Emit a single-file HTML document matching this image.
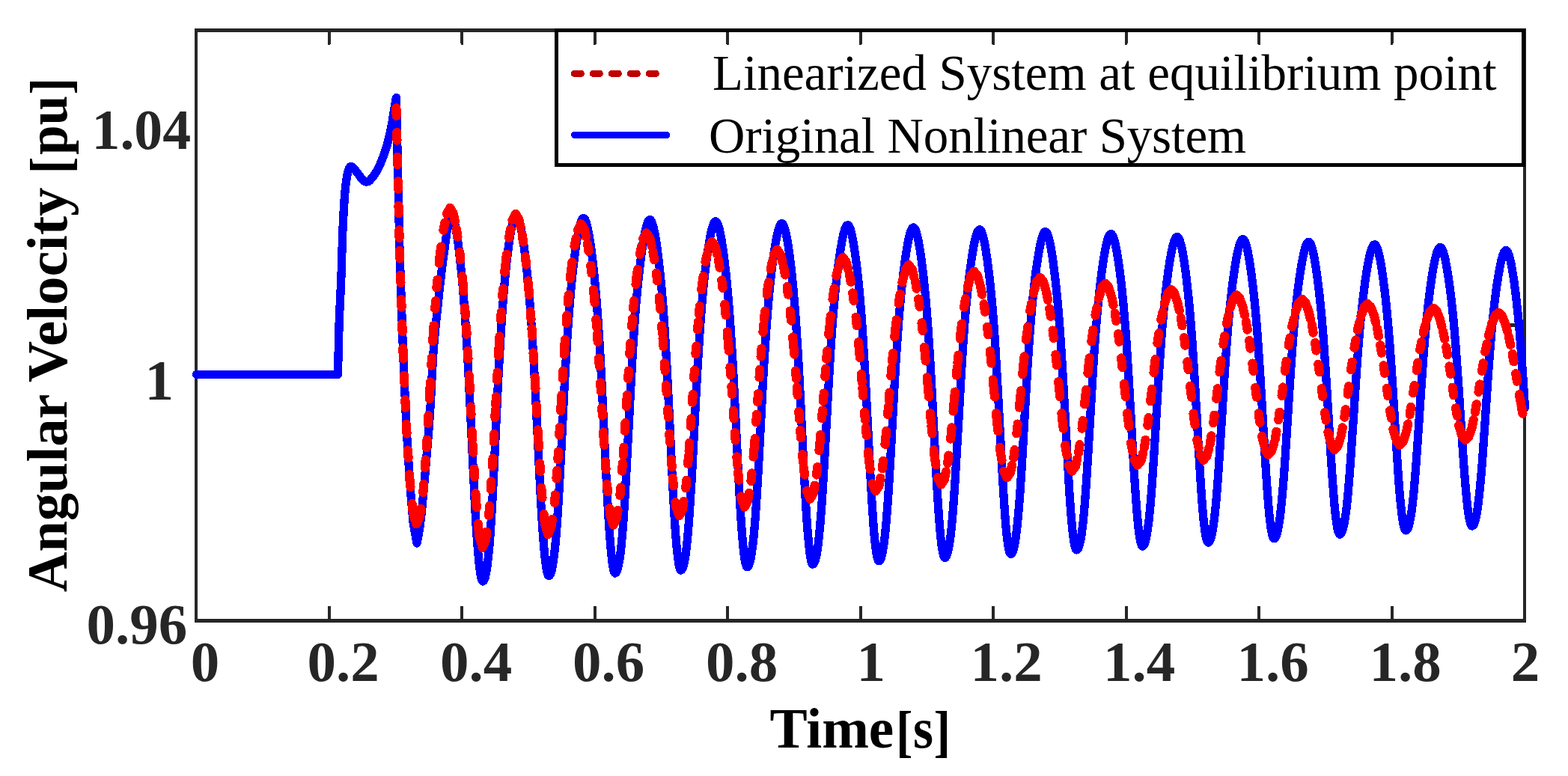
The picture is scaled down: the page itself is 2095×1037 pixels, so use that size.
<!DOCTYPE html>
<html lang="en"><head><meta charset="utf-8"><title>Angular Velocity vs Time</title>
<style>
html,body{margin:0;padding:0;background:#fff;}
body{width:2095px;height:1037px;overflow:hidden;}
svg{display:block;}
</style></head><body>
<svg width="2095" height="1037" viewBox="0 0 2095 1037" shape-rendering="crispEdges">
<rect x="0" y="0" width="2095" height="1037" fill="#fff"/>
<g stroke="#262626" fill="none">
<line x1="260" y1="40.5" x2="2039" y2="40.5" stroke-width="5"/>
<line x1="260" y1="829.5" x2="2039" y2="829.5" stroke-width="5"/>
<line x1="262" y1="38" x2="262" y2="832" stroke-width="4"/>
<line x1="2037" y1="38" x2="2037" y2="832" stroke-width="4"/>
<line x1="439.95" y1="43" x2="439.95" y2="58" stroke-width="4" stroke-linecap="round"/>
<line x1="439.95" y1="827" x2="439.95" y2="810" stroke-width="4"/>
<line x1="617.40" y1="43" x2="617.40" y2="58" stroke-width="4" stroke-linecap="round"/>
<line x1="617.40" y1="827" x2="617.40" y2="810" stroke-width="4"/>
<line x1="794.85" y1="43" x2="794.85" y2="58" stroke-width="4" stroke-linecap="round"/>
<line x1="794.85" y1="827" x2="794.85" y2="810" stroke-width="4"/>
<line x1="972.30" y1="43" x2="972.30" y2="58" stroke-width="4" stroke-linecap="round"/>
<line x1="972.30" y1="827" x2="972.30" y2="810" stroke-width="4"/>
<line x1="1149.75" y1="43" x2="1149.75" y2="58" stroke-width="4" stroke-linecap="round"/>
<line x1="1149.75" y1="827" x2="1149.75" y2="810" stroke-width="4"/>
<line x1="1327.20" y1="43" x2="1327.20" y2="58" stroke-width="4" stroke-linecap="round"/>
<line x1="1327.20" y1="827" x2="1327.20" y2="810" stroke-width="4"/>
<line x1="1504.65" y1="43" x2="1504.65" y2="58" stroke-width="4" stroke-linecap="round"/>
<line x1="1504.65" y1="827" x2="1504.65" y2="810" stroke-width="4"/>
<line x1="1682.10" y1="43" x2="1682.10" y2="58" stroke-width="4" stroke-linecap="round"/>
<line x1="1682.10" y1="827" x2="1682.10" y2="810" stroke-width="4"/>
<line x1="1859.55" y1="43" x2="1859.55" y2="58" stroke-width="4" stroke-linecap="round"/>
<line x1="1859.55" y1="827" x2="1859.55" y2="810" stroke-width="4"/>
<line x1="2035" y1="434.5" x2="2018" y2="434.5" stroke-width="5"/>
</g>
<rect x="743.5" y="40.5" width="1291.5" height="180" fill="none" stroke="#000" stroke-width="5"/>
<path d="M262.5,500.4 L451.4,500.4 L453.2,430.0 L453.4,425.4 L453.7,419.2 L454.0,411.9 L454.4,403.7 L454.8,395.1 L455.2,386.4 L455.6,377.9 L455.9,370.0 L456.2,362.5 L456.4,354.9 L456.6,347.3 L456.8,339.7 L457.1,332.2 L457.3,324.8 L457.5,317.6 L457.8,310.6 L458.1,303.7 L458.4,296.8 L458.8,290.0 L459.1,283.4 L459.5,277.0 L459.9,271.0 L460.2,265.5 L460.6,260.5 L461.0,256.1 L461.3,252.1 L461.7,248.6 L462.1,245.4 L462.5,242.6 L462.9,240.0 L463.2,237.6 L463.6,235.4 L464.0,233.4 L464.3,231.6 L464.6,230.2 L465.0,229.0 L465.3,227.9 L465.6,227.0 L466.0,226.1 L466.3,225.3 L466.6,224.6 L467.0,224.0 L467.3,223.5 L467.6,223.2 L468.0,222.9 L468.3,222.8 L468.6,222.7 L469.0,222.6 L469.4,222.6 L469.7,222.6 L470.0,222.7 L470.4,222.9 L470.7,223.2 L471.1,223.5 L471.6,224.0 L472.2,224.6 L472.9,225.3 L473.7,226.3 L474.5,227.3 L475.4,228.4 L476.3,229.6 L477.2,230.7 L478.1,231.9 L478.9,232.9 L479.7,233.9 L480.4,234.9 L481.1,235.9 L481.8,236.9 L482.5,237.8 L483.2,238.7 L483.8,239.5 L484.5,240.2 L485.1,240.8 L485.8,241.3 L486.4,241.8 L486.9,242.2 L487.5,242.5 L488.1,242.7 L488.8,242.9 L489.4,242.9 L490.0,242.9 L490.6,242.8 L491.2,242.7 L491.9,242.5 L492.5,242.2 L493.3,241.7 L494.1,241.0 L495.0,240.0 L496.1,238.8 L497.2,237.4 L498.5,235.9 L499.8,234.1 L501.2,232.2 L502.5,230.1 L503.9,227.8 L505.2,225.3 L506.5,222.6 L507.9,219.6 L509.2,216.3 L510.6,212.9 L512.0,209.4 L513.3,205.9 L514.5,202.4 L515.6,199.0 L516.6,195.6 L517.6,192.3 L518.5,188.8 L519.3,185.4 L520.1,182.0 L520.9,178.6 L521.6,175.3 L522.3,172.0 L523.0,168.7 L523.6,165.4 L524.2,162.1 L524.7,158.8 L525.2,155.7 L525.7,152.6 L526.2,149.7 L526.6,147.0 L527.0,144.4 L527.5,141.9 L527.9,139.5 L528.3,137.2 L528.6,135.1 L528.9,133.3 L529.2,131.7 L529.4,130.5 L534.0,335.0 L538.5,469.0 L542.9,569.0 L547.4,642.0 L551.9,697.0 L556.9,726.0 L557.2,724.7 L557.6,722.8 L558.0,720.5 L558.6,717.9 L559.1,715.0 L559.6,712.0 L560.1,709.0 L560.6,706.0 L561.1,702.7 L561.6,699.0 L562.2,694.5 L562.8,689.0 L563.5,682.3 L564.3,674.4 L565.1,665.8 L565.9,656.9 L566.7,647.9 L567.5,639.3 L568.2,631.0 L568.9,622.6 L569.6,614.2 L570.3,605.8 L571.0,597.6 L571.6,589.6 L572.2,582.2 L572.8,575.4 L573.3,568.7 L573.8,561.6 L574.4,553.6 L575.0,544.3 L575.6,533.2 L576.3,520.7 L576.9,507.2 L577.7,493.5 L578.4,480.0 L579.3,467.2 L580.3,454.9 L581.4,442.6 L582.6,430.5 L583.8,418.8 L585.0,407.9 L586.0,398.0 L586.9,389.2 L587.8,381.2 L588.7,374.1 L589.5,367.4 L590.2,361.1 L591.0,355.0 L591.7,349.2 L592.4,343.9 L593.1,338.9 L593.7,334.2 L594.4,329.6 L595.0,325.0 L595.6,320.3 L596.3,315.5 L596.9,310.8 L597.5,306.4 L598.1,302.4 L598.6,299.0 L599.1,296.2 L599.5,293.8 L599.8,291.9 L600.2,290.3 L600.5,288.8 L600.8,287.5 L601.1,286.3 L601.4,285.3 L601.7,284.5 L601.9,283.9 L602.1,283.4 L602.3,283.0 L602.9,283.6 L604.4,286.0 L605.4,288.9 L606.4,292.6 L607.4,296.9 L608.4,301.9 L609.4,307.5 L610.4,313.7 L611.4,320.4 L612.4,327.6 L613.3,335.3 L614.3,343.6 L615.3,352.5 L616.3,362.1 L617.3,372.3 L618.3,383.3 L619.3,395.2 L620.3,408.1 L621.3,421.9 L622.3,436.8 L623.3,452.7 L624.3,469.7 L625.3,487.7 L626.3,506.6 L627.3,526.2 L628.3,546.5 L629.3,567.2 L630.3,588.1 L631.3,609.0 L632.3,629.4 L633.3,649.3 L634.2,668.4 L635.2,686.3 L636.2,702.9 L637.2,718.1 L638.2,731.7 L639.2,743.6 L640.2,753.7 L641.2,762.0 L642.2,768.5 L643.2,773.1 L644.2,775.9 L645.2,776.9 L646.2,776.3 L647.2,774.6 L648.2,771.6 L649.2,767.4 L650.2,761.9 L651.2,754.9 L652.2,746.3 L653.3,736.2 L654.3,724.3 L655.3,710.8 L656.3,695.6 L657.3,678.8 L658.3,660.6 L659.3,641.2 L660.3,620.8 L661.3,599.8 L662.3,578.4 L663.3,556.9 L664.3,535.8 L665.3,515.1 L666.3,495.3 L667.4,476.4 L668.4,458.6 L669.4,442.0 L670.4,426.5 L671.4,412.2 L672.4,399.0 L673.4,386.8 L674.4,375.5 L675.4,365.1 L676.4,355.4 L677.4,346.4 L678.4,337.9 L679.4,330.1 L680.4,322.8 L681.4,316.1 L682.5,310.0 L683.5,304.5 L684.5,299.7 L685.5,295.6 L686.5,292.3 L687.5,290.0 L688.5,288.5 L689.5,288.0 L690.5,288.5 L691.5,289.7 L692.5,291.8 L693.5,294.6 L694.5,298.2 L695.5,302.4 L696.5,307.3 L697.5,312.7 L698.5,318.7 L699.5,325.3 L700.5,332.3 L701.4,339.8 L702.4,347.9 L703.4,356.6 L704.4,365.8 L705.4,375.8 L706.4,386.6 L707.4,398.2 L708.4,410.6 L709.4,424.1 L710.4,438.6 L711.4,454.1 L712.4,470.6 L713.4,488.1 L714.4,506.5 L715.4,525.7 L716.4,545.4 L717.4,565.6 L718.4,585.9 L719.4,606.2 L720.4,626.2 L721.4,645.5 L722.3,664.0 L723.3,681.5 L724.3,697.7 L725.3,712.5 L726.3,725.7 L727.3,737.3 L728.3,747.1 L729.3,755.2 L730.3,761.5 L731.3,766.0 L732.3,768.7 L733.3,769.6 L734.3,769.1 L735.3,767.6 L736.3,765.0 L737.3,761.2 L738.3,756.3 L739.3,750.1 L740.3,742.5 L741.4,733.5 L742.4,723.0 L743.4,711.0 L744.4,697.5 L745.4,682.5 L746.4,666.2 L747.4,648.6 L748.4,630.1 L749.4,610.8 L750.4,591.0 L751.4,570.9 L752.4,550.9 L753.4,531.1 L754.4,511.9 L755.4,493.4 L756.5,475.7 L757.5,459.1 L758.5,443.4 L759.5,428.8 L760.5,415.3 L761.5,402.7 L762.5,391.0 L763.5,380.3 L764.5,370.2 L765.5,360.9 L766.5,352.2 L767.5,344.1 L768.5,336.5 L769.5,329.4 L770.5,322.8 L771.5,316.8 L772.6,311.2 L773.6,306.2 L774.6,301.9 L775.6,298.2 L776.6,295.3 L777.6,293.2 L778.6,291.9 L779.6,291.4 L780.6,291.9 L781.6,293.3 L782.6,295.5 L783.6,298.5 L784.6,302.4 L785.6,306.9 L786.6,312.1 L787.7,318.0 L788.7,324.4 L789.7,331.3 L790.7,338.9 L791.7,346.9 L792.7,355.6 L793.7,365.0 L794.7,375.0 L795.7,385.9 L796.7,397.7 L797.7,410.4 L798.7,424.2 L799.7,439.1 L800.8,455.0 L801.8,472.1 L802.8,490.3 L803.8,509.3 L804.8,529.2 L805.8,549.7 L806.8,570.6 L807.8,591.6 L808.8,612.5 L809.8,632.8 L810.8,652.4 L811.8,671.0 L812.8,688.4 L813.8,704.2 L814.9,718.5 L815.9,731.0 L816.9,741.6 L817.9,750.4 L818.9,757.2 L819.9,762.1 L820.9,765.0 L821.9,766.0 L822.9,765.4 L823.9,763.9 L824.9,761.3 L825.9,757.6 L826.9,752.8 L828.0,746.6 L829.0,739.1 L830.0,730.2 L831.0,719.9 L832.0,708.0 L833.0,694.6 L834.0,679.9 L835.0,663.7 L836.0,646.4 L837.0,628.1 L838.0,609.0 L839.0,589.4 L840.1,569.6 L841.1,549.8 L842.1,530.3 L843.1,511.3 L844.1,493.0 L845.1,475.6 L846.1,459.1 L847.1,443.7 L848.1,429.3 L849.1,415.9 L850.1,403.4 L851.2,391.9 L852.2,381.3 L853.2,371.4 L854.2,362.2 L855.2,353.6 L856.2,345.6 L857.2,338.1 L858.2,331.1 L859.2,324.6 L860.2,318.6 L861.2,313.1 L862.2,308.1 L863.3,303.9 L864.3,300.2 L865.3,297.4 L866.3,295.3 L867.3,294.0 L868.3,293.5 L869.3,294.0 L870.3,295.4 L871.3,297.7 L872.3,300.9 L873.3,304.8 L874.4,309.5 L875.4,314.9 L876.4,320.9 L877.4,327.5 L878.4,334.7 L879.4,342.4 L880.4,350.8 L881.4,359.8 L882.4,369.4 L883.4,379.9 L884.5,391.2 L885.5,403.5 L886.5,416.8 L887.5,431.3 L888.5,446.8 L889.5,463.5 L890.5,481.4 L891.5,500.3 L892.5,520.1 L893.5,540.6 L894.6,561.6 L895.6,582.8 L896.6,603.9 L897.6,624.7 L898.6,644.8 L899.6,663.9 L900.6,681.7 L901.6,698.1 L902.6,712.8 L903.6,725.7 L904.7,736.7 L905.7,745.8 L906.7,752.9 L907.7,757.9 L908.7,760.9 L909.7,762.0 L910.7,761.5 L911.7,759.9 L912.7,757.4 L913.7,753.8 L914.8,748.9 L915.8,742.9 L916.8,735.5 L917.8,726.7 L918.8,716.5 L919.8,704.8 L920.8,691.6 L921.8,677.0 L922.8,661.1 L923.9,644.0 L924.9,625.9 L925.9,607.1 L926.9,587.8 L927.9,568.2 L928.9,548.7 L929.9,529.5 L930.9,510.7 L931.9,492.7 L933.0,475.5 L934.0,459.2 L935.0,444.0 L936.0,429.8 L937.0,416.5 L938.0,404.3 L939.0,392.9 L940.0,382.4 L941.0,372.6 L942.0,363.5 L943.1,355.1 L944.1,347.1 L945.1,339.7 L946.1,332.8 L947.1,326.4 L948.1,320.4 L949.1,315.0 L950.1,310.2 L951.1,305.9 L952.2,302.4 L953.2,299.5 L954.2,297.4 L955.2,296.2 L956.2,295.8 L957.2,296.2 L958.2,297.5 L959.2,299.7 L960.2,302.7 L961.2,306.4 L962.2,310.9 L963.2,316.0 L964.2,321.7 L965.2,328.0 L966.2,334.8 L967.2,342.2 L968.2,350.1 L969.2,358.6 L970.2,367.8 L971.2,377.6 L972.2,388.3 L973.2,399.8 L974.2,412.2 L975.2,425.7 L976.2,440.2 L977.2,455.8 L978.3,472.4 L979.3,490.1 L980.3,508.6 L981.3,528.0 L982.3,547.9 L983.3,568.2 L984.3,588.6 L985.3,608.8 L986.3,628.6 L987.3,647.6 L988.3,665.7 L989.3,682.5 L990.3,697.9 L991.3,711.7 L992.3,723.8 L993.3,734.1 L994.3,742.6 L995.3,749.2 L996.3,754.0 L997.3,756.8 L998.3,757.8 L999.3,757.3 L1000.3,755.8 L1001.3,753.3 L1002.3,749.7 L1003.3,744.9 L1004.3,739.0 L1005.3,731.7 L1006.4,723.1 L1007.4,713.0 L1008.4,701.5 L1009.4,688.6 L1010.4,674.2 L1011.4,658.6 L1012.4,641.9 L1013.4,624.1 L1014.4,605.7 L1015.4,586.7 L1016.4,567.5 L1017.4,548.4 L1018.4,529.5 L1019.4,511.1 L1020.4,493.3 L1021.4,476.4 L1022.5,460.4 L1023.5,445.3 L1024.5,431.3 L1025.5,418.2 L1026.5,406.1 L1027.5,394.8 L1028.5,384.4 L1029.5,374.7 L1030.5,365.7 L1031.5,357.3 L1032.5,349.5 L1033.5,342.1 L1034.5,335.3 L1035.5,328.9 L1036.5,323.0 L1037.6,317.6 L1038.6,312.8 L1039.6,308.6 L1040.6,305.1 L1041.6,302.3 L1042.6,300.2 L1043.6,299.0 L1044.6,298.5 L1045.6,299.0 L1046.6,300.4 L1047.6,302.7 L1048.6,305.8 L1049.6,309.7 L1050.6,314.3 L1051.7,319.6 L1052.7,325.5 L1053.7,332.0 L1054.7,339.1 L1055.7,346.7 L1056.7,354.9 L1057.7,363.8 L1058.7,373.4 L1059.7,383.7 L1060.7,394.8 L1061.7,406.9 L1062.7,419.9 L1063.7,434.0 L1064.7,449.2 L1065.8,465.6 L1066.8,482.9 L1067.8,501.3 L1068.8,520.5 L1069.8,540.4 L1070.8,560.7 L1071.8,581.2 L1072.8,601.7 L1073.8,621.7 L1074.8,641.1 L1075.8,659.5 L1076.8,676.7 L1077.8,692.5 L1078.8,706.7 L1079.9,719.1 L1080.9,729.8 L1081.9,738.5 L1082.9,745.3 L1083.9,750.2 L1084.9,753.1 L1085.9,754.1 L1086.9,753.6 L1087.9,752.2 L1088.9,749.8 L1089.9,746.4 L1090.9,741.9 L1091.9,736.3 L1092.9,729.5 L1093.8,721.4 L1094.8,711.9 L1095.8,701.1 L1096.8,689.0 L1097.8,675.5 L1098.8,660.8 L1099.8,644.9 L1100.8,628.1 L1101.8,610.5 L1102.8,592.4 L1103.8,574.0 L1104.8,555.5 L1105.8,537.2 L1106.8,519.2 L1107.8,501.7 L1108.8,485.0 L1109.7,469.1 L1110.7,454.0 L1111.7,439.9 L1112.7,426.8 L1113.7,414.5 L1114.7,403.1 L1115.7,392.5 L1116.7,382.6 L1117.7,373.4 L1118.7,364.9 L1119.7,356.9 L1120.7,349.4 L1121.7,342.3 L1122.7,335.8 L1123.7,329.7 L1124.7,324.0 L1125.6,318.9 L1126.6,314.3 L1127.6,310.3 L1128.6,307.0 L1129.6,304.3 L1130.6,302.3 L1131.6,301.1 L1132.6,300.8 L1133.6,301.2 L1134.6,302.5 L1135.6,304.6 L1136.6,307.6 L1137.6,311.3 L1138.6,315.7 L1139.5,320.7 L1140.5,326.3 L1141.5,332.5 L1142.5,339.3 L1143.5,346.5 L1144.5,354.4 L1145.5,362.8 L1146.5,371.8 L1147.5,381.5 L1148.5,392.0 L1149.5,403.3 L1150.5,415.6 L1151.5,428.7 L1152.5,442.9 L1153.4,458.1 L1154.4,474.4 L1155.4,491.5 L1156.4,509.6 L1157.4,528.3 L1158.4,547.6 L1159.4,567.2 L1160.4,586.9 L1161.4,606.4 L1162.4,625.5 L1163.4,643.8 L1164.4,661.2 L1165.4,677.4 L1166.4,692.2 L1167.3,705.5 L1168.3,717.1 L1169.3,727.0 L1170.3,735.2 L1171.3,741.6 L1172.3,746.1 L1173.3,748.8 L1174.3,749.8 L1175.3,749.3 L1176.3,747.8 L1177.3,745.4 L1178.3,741.9 L1179.3,737.3 L1180.3,731.5 L1181.3,724.5 L1182.3,716.1 L1183.3,706.4 L1184.3,695.3 L1185.3,682.8 L1186.3,669.0 L1187.3,653.9 L1188.3,637.8 L1189.3,620.7 L1190.3,602.9 L1191.3,584.7 L1192.3,566.2 L1193.3,547.7 L1194.3,529.4 L1195.3,511.6 L1196.3,494.4 L1197.3,478.0 L1198.4,462.5 L1199.4,447.8 L1200.4,434.2 L1201.4,421.4 L1202.4,409.6 L1203.4,398.5 L1204.4,388.3 L1205.4,378.8 L1206.4,370.0 L1207.4,361.7 L1208.4,354.0 L1209.4,346.7 L1210.4,340.0 L1211.4,333.7 L1212.4,327.9 L1213.4,322.6 L1214.4,317.9 L1215.4,313.8 L1216.4,310.3 L1217.4,307.6 L1218.4,305.6 L1219.4,304.4 L1220.4,303.9 L1221.4,304.4 L1222.4,305.7 L1223.4,307.8 L1224.4,310.7 L1225.4,314.4 L1226.4,318.7 L1227.4,323.7 L1228.4,329.3 L1229.4,335.4 L1230.4,342.1 L1231.4,349.4 L1232.4,357.1 L1233.4,365.5 L1234.4,374.4 L1235.4,384.1 L1236.4,394.5 L1237.4,405.7 L1238.4,417.7 L1239.4,430.8 L1240.4,444.8 L1241.4,459.8 L1242.4,475.7 L1243.4,492.6 L1244.4,510.3 L1245.4,528.7 L1246.4,547.6 L1247.4,566.9 L1248.4,586.1 L1249.4,605.2 L1250.4,623.9 L1251.4,641.8 L1252.4,658.8 L1253.4,674.6 L1254.4,689.1 L1255.4,702.1 L1256.4,713.4 L1257.4,723.2 L1258.4,731.1 L1259.4,737.3 L1260.4,741.8 L1261.4,744.5 L1262.4,745.4 L1263.4,744.9 L1264.4,743.5 L1265.4,741.0 L1266.4,737.6 L1267.4,733.1 L1268.5,727.4 L1269.5,720.5 L1270.5,712.3 L1271.5,702.7 L1272.5,691.8 L1273.5,679.6 L1274.5,666.1 L1275.5,651.3 L1276.5,635.5 L1277.5,618.8 L1278.5,601.3 L1279.5,583.4 L1280.6,565.3 L1281.6,547.2 L1282.6,529.3 L1283.6,511.8 L1284.6,494.9 L1285.6,478.8 L1286.6,463.5 L1287.6,449.1 L1288.6,435.6 L1289.6,423.0 L1290.6,411.3 L1291.7,400.4 L1292.7,390.3 L1293.7,380.9 L1294.7,372.1 L1295.7,363.9 L1296.7,356.3 L1297.7,349.1 L1298.7,342.4 L1299.7,336.2 L1300.7,330.5 L1301.7,325.2 L1302.7,320.6 L1303.8,316.5 L1304.8,313.1 L1305.8,310.3 L1306.8,308.4 L1307.8,307.2 L1308.8,306.8 L1309.8,307.2 L1310.8,308.5 L1311.8,310.5 L1312.8,313.4 L1313.8,317.1 L1314.8,321.4 L1315.8,326.3 L1316.7,331.9 L1317.7,338.0 L1318.7,344.6 L1319.7,351.8 L1320.7,359.5 L1321.7,367.7 L1322.7,376.6 L1323.7,386.2 L1324.7,396.5 L1325.7,407.5 L1326.7,419.5 L1327.7,432.3 L1328.7,446.1 L1329.7,460.9 L1330.6,476.6 L1331.6,493.2 L1332.6,510.6 L1333.6,528.6 L1334.6,547.2 L1335.6,566.0 L1336.6,584.8 L1337.6,603.5 L1338.6,621.7 L1339.6,639.2 L1340.6,655.8 L1341.6,671.3 L1342.6,685.4 L1343.5,698.1 L1344.5,709.2 L1345.5,718.7 L1346.5,726.5 L1347.5,732.5 L1348.5,736.9 L1349.5,739.5 L1350.5,740.4 L1351.5,739.9 L1352.5,738.5 L1353.5,736.1 L1354.5,732.7 L1355.5,728.3 L1356.5,722.7 L1357.5,715.9 L1358.5,707.9 L1359.5,698.5 L1360.5,687.9 L1361.5,675.9 L1362.6,662.7 L1363.6,648.2 L1364.6,632.8 L1365.6,616.4 L1366.6,599.4 L1367.6,581.9 L1368.6,564.2 L1369.6,546.4 L1370.6,528.9 L1371.6,511.8 L1372.6,495.2 L1373.6,479.4 L1374.6,464.4 L1375.6,450.2 L1376.6,436.9 L1377.6,424.5 L1378.6,413.0 L1379.6,402.3 L1380.6,392.3 L1381.6,383.0 L1382.6,374.3 L1383.6,366.2 L1384.6,358.6 L1385.7,351.5 L1386.7,344.9 L1387.7,338.7 L1388.7,333.1 L1389.7,327.9 L1390.7,323.3 L1391.7,319.3 L1392.7,315.9 L1393.7,313.2 L1394.7,311.2 L1395.7,310.0 L1396.7,309.6 L1397.7,310.1 L1398.7,311.3 L1399.7,313.4 L1400.7,316.3 L1401.7,319.8 L1402.7,324.1 L1403.7,329.0 L1404.7,334.5 L1405.7,340.5 L1406.7,347.1 L1407.6,354.2 L1408.6,361.8 L1409.6,370.0 L1410.6,378.8 L1411.6,388.3 L1412.6,398.5 L1413.6,409.4 L1414.6,421.2 L1415.6,433.9 L1416.6,447.5 L1417.6,462.0 L1418.6,477.4 L1419.6,493.7 L1420.6,510.7 L1421.6,528.4 L1422.6,546.5 L1423.6,564.9 L1424.6,583.3 L1425.6,601.5 L1426.6,619.3 L1427.6,636.3 L1428.5,652.5 L1429.5,667.6 L1430.5,681.3 L1431.5,693.7 L1432.5,704.5 L1433.5,713.7 L1434.5,721.3 L1435.5,727.2 L1436.5,731.5 L1437.5,734.0 L1438.5,734.9 L1439.5,734.4 L1440.5,733.0 L1441.5,730.7 L1442.5,727.4 L1443.5,723.0 L1444.5,717.6 L1445.5,710.9 L1446.5,703.1 L1447.5,693.9 L1448.5,683.5 L1449.5,671.8 L1450.4,658.9 L1451.4,644.8 L1452.4,629.7 L1453.4,613.8 L1454.4,597.2 L1455.4,580.1 L1456.4,562.8 L1457.4,545.5 L1458.4,528.3 L1459.4,511.6 L1460.4,495.4 L1461.4,479.9 L1462.4,465.2 L1463.4,451.3 L1464.4,438.2 L1465.4,426.1 L1466.4,414.7 L1467.4,404.1 L1468.4,394.3 L1469.4,385.1 L1470.4,376.5 L1471.4,368.5 L1472.4,361.0 L1473.3,354.0 L1474.3,347.4 L1475.3,341.3 L1476.3,335.7 L1477.3,330.6 L1478.3,326.1 L1479.3,322.1 L1480.3,318.8 L1481.3,316.1 L1482.3,314.2 L1483.3,313.0 L1484.3,312.6 L1485.3,313.1 L1486.3,314.3 L1487.3,316.4 L1488.3,319.2 L1489.3,322.7 L1490.3,326.9 L1491.3,331.8 L1492.3,337.2 L1493.3,343.2 L1494.3,349.7 L1495.4,356.8 L1496.4,364.3 L1497.4,372.5 L1498.4,381.2 L1499.4,390.5 L1500.4,400.6 L1501.4,411.4 L1502.4,423.1 L1503.4,435.5 L1504.4,448.9 L1505.4,463.2 L1506.4,478.4 L1507.4,494.3 L1508.4,511.0 L1509.4,528.4 L1510.4,546.1 L1511.4,564.1 L1512.4,582.1 L1513.4,599.9 L1514.4,617.2 L1515.4,633.9 L1516.5,649.6 L1517.5,664.3 L1518.5,677.7 L1519.5,689.8 L1520.5,700.3 L1521.5,709.4 L1522.5,716.8 L1523.5,722.5 L1524.5,726.6 L1525.5,729.1 L1526.5,730.0 L1527.5,729.5 L1528.5,728.2 L1529.5,725.9 L1530.5,722.6 L1531.5,718.4 L1532.5,713.0 L1533.5,706.5 L1534.6,698.8 L1535.6,689.9 L1536.6,679.7 L1537.6,668.3 L1538.6,655.7 L1539.6,642.0 L1540.6,627.3 L1541.6,611.7 L1542.6,595.6 L1543.6,578.9 L1544.6,562.0 L1545.6,545.1 L1546.6,528.4 L1547.6,512.1 L1548.6,496.3 L1549.7,481.1 L1550.7,466.6 L1551.7,453.0 L1552.7,440.2 L1553.7,428.2 L1554.7,417.0 L1555.7,406.6 L1556.7,396.9 L1557.7,387.8 L1558.7,379.4 L1559.7,371.5 L1560.7,364.0 L1561.7,357.1 L1562.7,350.6 L1563.7,344.6 L1564.7,339.1 L1565.8,334.1 L1566.8,329.6 L1567.8,325.7 L1568.8,322.4 L1569.8,319.8 L1570.8,317.9 L1571.8,316.7 L1572.8,316.3 L1573.8,316.8 L1574.8,318.1 L1575.8,320.2 L1576.8,323.1 L1577.8,326.8 L1578.9,331.1 L1579.9,336.1 L1580.9,341.7 L1581.9,347.9 L1582.9,354.6 L1583.9,361.9 L1584.9,369.8 L1585.9,378.2 L1586.9,387.2 L1587.9,396.9 L1589.0,407.4 L1590.0,418.6 L1591.0,430.7 L1592.0,443.7 L1593.0,457.6 L1594.0,472.4 L1595.0,488.1 L1596.0,504.5 L1597.0,521.6 L1598.0,539.2 L1599.1,557.1 L1600.1,575.1 L1601.1,593.0 L1602.1,610.4 L1603.1,627.2 L1604.1,643.2 L1605.1,658.1 L1606.1,671.7 L1607.1,684.0 L1608.1,694.8 L1609.2,703.9 L1610.2,711.5 L1611.2,717.4 L1612.2,721.6 L1613.2,724.1 L1614.2,725.0 L1615.2,724.5 L1616.2,723.2 L1617.2,721.0 L1618.2,717.8 L1619.2,713.6 L1620.3,708.3 L1621.3,702.0 L1622.3,694.5 L1623.3,685.7 L1624.3,675.8 L1625.3,664.7 L1626.3,652.4 L1627.3,639.0 L1628.3,624.7 L1629.3,609.5 L1630.3,593.7 L1631.3,577.5 L1632.4,561.0 L1633.4,544.5 L1634.4,528.2 L1635.4,512.2 L1636.4,496.7 L1637.4,481.9 L1638.4,467.7 L1639.4,454.4 L1640.4,441.8 L1641.4,430.0 L1642.4,419.0 L1643.5,408.7 L1644.5,399.2 L1645.5,390.2 L1646.5,381.9 L1647.5,374.0 L1648.5,366.7 L1649.5,359.9 L1650.5,353.5 L1651.5,347.6 L1652.5,342.1 L1653.5,337.1 L1654.5,332.7 L1655.6,328.8 L1656.6,325.6 L1657.6,323.0 L1658.6,321.2 L1659.6,320.0 L1660.6,319.6 L1661.6,320.1 L1662.6,321.3 L1663.6,323.3 L1664.6,326.0 L1665.6,329.5 L1666.6,333.6 L1667.5,338.3 L1668.5,343.6 L1669.5,349.5 L1670.5,355.9 L1671.5,362.8 L1672.5,370.2 L1673.5,378.1 L1674.5,386.7 L1675.5,395.8 L1676.5,405.6 L1677.5,416.1 L1678.5,427.4 L1679.5,439.5 L1680.5,452.5 L1681.4,466.2 L1682.4,480.8 L1683.4,496.1 L1684.4,512.1 L1685.4,528.6 L1686.4,545.6 L1687.4,562.7 L1688.4,579.8 L1689.4,596.6 L1690.4,613.1 L1691.4,628.9 L1692.4,643.8 L1693.4,657.7 L1694.4,670.4 L1695.3,681.8 L1696.3,691.8 L1697.3,700.3 L1698.3,707.3 L1699.3,712.7 L1700.3,716.6 L1701.3,719.0 L1702.3,719.8 L1703.3,719.3 L1704.3,718.0 L1705.3,715.8 L1706.3,712.7 L1707.3,708.6 L1708.3,703.5 L1709.3,697.3 L1710.3,690.0 L1711.3,681.5 L1712.3,671.8 L1713.3,660.9 L1714.4,648.9 L1715.4,635.9 L1716.4,622.0 L1717.4,607.2 L1718.4,591.9 L1719.4,576.1 L1720.4,560.1 L1721.4,544.0 L1722.4,528.1 L1723.4,512.5 L1724.4,497.4 L1725.4,482.9 L1726.4,469.1 L1727.4,456.0 L1728.4,443.6 L1729.4,432.1 L1730.4,421.3 L1731.4,411.1 L1732.4,401.7 L1733.4,392.9 L1734.4,384.7 L1735.4,377.0 L1736.4,369.7 L1737.5,363.0 L1738.5,356.7 L1739.5,350.8 L1740.5,345.4 L1741.5,340.6 L1742.5,336.2 L1743.5,332.4 L1744.5,329.2 L1745.5,326.7 L1746.5,324.8 L1747.5,323.7 L1748.5,323.3 L1749.5,323.7 L1750.5,324.9 L1751.5,326.9 L1752.5,329.6 L1753.5,333.0 L1754.5,337.1 L1755.5,341.8 L1756.4,347.0 L1757.4,352.8 L1758.4,359.1 L1759.4,365.9 L1760.4,373.2 L1761.4,381.1 L1762.4,389.5 L1763.4,398.5 L1764.4,408.2 L1765.4,418.5 L1766.4,429.6 L1767.4,441.5 L1768.4,454.2 L1769.3,467.7 L1770.3,481.9 L1771.3,496.9 L1772.3,512.5 L1773.3,528.6 L1774.3,545.1 L1775.3,561.7 L1776.3,578.3 L1777.3,594.7 L1778.3,610.6 L1779.3,626.0 L1780.3,640.4 L1781.3,653.9 L1782.3,666.2 L1783.2,677.2 L1784.2,686.9 L1785.2,695.2 L1786.2,701.9 L1787.2,707.2 L1788.2,711.0 L1789.2,713.3 L1790.2,714.1 L1791.2,713.6 L1792.2,712.4 L1793.2,710.2 L1794.2,707.2 L1795.2,703.2 L1796.3,698.2 L1797.3,692.1 L1798.3,685.0 L1799.3,676.7 L1800.3,667.3 L1801.3,656.7 L1802.3,645.1 L1803.3,632.4 L1804.3,618.9 L1805.3,604.5 L1806.3,589.6 L1807.3,574.3 L1808.4,558.7 L1809.4,543.1 L1810.4,527.6 L1811.4,512.4 L1812.4,497.7 L1813.4,483.5 L1814.4,470.0 L1815.4,457.2 L1816.4,445.2 L1817.4,433.8 L1818.4,423.2 L1819.5,413.3 L1820.5,404.0 L1821.5,395.3 L1822.5,387.2 L1823.5,379.6 L1824.5,372.5 L1825.5,365.8 L1826.5,359.6 L1827.5,353.9 L1828.5,348.6 L1829.5,343.8 L1830.5,339.5 L1831.6,335.7 L1832.6,332.6 L1833.6,330.1 L1834.6,328.3 L1835.6,327.2 L1836.6,326.8 L1837.6,327.2 L1838.6,328.4 L1839.6,330.4 L1840.6,333.0 L1841.6,336.4 L1842.6,340.4 L1843.6,345.0 L1844.6,350.2 L1845.6,355.9 L1846.6,362.1 L1847.5,368.8 L1848.5,376.1 L1849.5,383.8 L1850.5,392.1 L1851.5,401.0 L1852.5,410.6 L1853.5,420.8 L1854.5,431.7 L1855.5,443.4 L1856.5,455.9 L1857.5,469.1 L1858.5,483.0 L1859.5,497.7 L1860.5,512.9 L1861.5,528.6 L1862.5,544.6 L1863.5,560.8 L1864.5,577.0 L1865.5,592.9 L1866.5,608.4 L1867.5,623.3 L1868.4,637.4 L1869.4,650.4 L1870.4,662.4 L1871.4,673.1 L1872.4,682.5 L1873.4,690.5 L1874.4,697.1 L1875.4,702.2 L1876.4,705.9 L1877.4,708.1 L1878.4,708.9 L1879.4,708.4 L1880.4,707.2 L1881.4,705.1 L1882.4,702.1 L1883.4,698.2 L1884.4,693.3 L1885.4,687.4 L1886.4,680.5 L1887.4,672.4 L1888.4,663.2 L1889.4,652.9 L1890.3,641.6 L1891.3,629.3 L1892.3,616.2 L1893.3,602.2 L1894.3,587.7 L1895.3,572.8 L1896.3,557.7 L1897.3,542.5 L1898.3,527.4 L1899.3,512.6 L1900.3,498.3 L1901.3,484.5 L1902.3,471.3 L1903.3,458.7 L1904.3,446.9 L1905.3,435.8 L1906.3,425.4 L1907.3,415.6 L1908.3,406.5 L1909.3,398.0 L1910.3,390.0 L1911.3,382.5 L1912.3,375.5 L1913.2,368.9 L1914.2,362.8 L1915.2,357.1 L1916.2,351.9 L1917.2,347.2 L1918.2,343.0 L1919.2,339.3 L1920.2,336.2 L1921.2,333.8 L1922.2,332.0 L1923.2,330.9 L1924.2,330.5 L1925.2,330.9 L1926.2,332.0 L1927.2,333.8 L1928.2,336.3 L1929.2,339.5 L1930.2,343.3 L1931.2,347.6 L1932.1,352.5 L1933.1,357.9 L1934.1,363.8 L1935.1,370.2 L1936.1,377.0 L1937.1,384.3 L1938.1,392.2 L1939.1,400.5 L1940.1,409.5 L1941.1,419.0 L1942.1,429.2 L1943.1,440.1 L1944.1,451.7 L1945.1,464.0 L1946.0,476.9 L1947.0,490.5 L1948.0,504.7 L1949.0,519.4 L1950.0,534.5 L1951.0,549.8 L1952.0,565.1 L1953.0,580.4 L1954.0,595.4 L1955.0,609.9 L1956.0,623.8 L1957.0,636.8 L1958.0,649.0 L1959.0,660.0 L1959.9,669.9 L1960.9,678.6 L1961.9,686.0 L1962.9,692.1 L1963.9,696.8 L1964.9,700.2 L1965.9,702.3 L1966.9,703.0 L1967.9,702.5 L1968.9,701.3 L1969.9,699.1 L1970.9,696.1 L1971.9,692.1 L1972.9,687.1 L1973.9,681.1 L1974.9,674.0 L1975.9,665.8 L1976.9,656.5 L1977.9,646.1 L1979.0,634.6 L1980.0,622.2 L1981.0,608.9 L1982.0,594.9 L1983.0,580.4 L1984.0,565.5 L1985.0,550.5 L1986.0,535.5 L1987.0,520.6 L1988.0,506.1 L1989.0,492.1 L1990.0,478.7 L1991.0,465.9 L1992.0,453.8 L1993.0,442.4 L1994.0,431.7 L1995.0,421.6 L1996.0,412.3 L1997.0,403.5 L1998.0,395.3 L1999.0,387.6 L2000.0,380.5 L2001.1,373.8 L2002.1,367.5 L2003.1,361.7 L2004.1,356.4 L2005.1,351.5 L2006.1,347.2 L2007.1,343.5 L2008.1,340.3 L2009.1,337.8 L2010.1,336.0 L2011.1,334.9 L2012.1,334.5 L2013.1,335.0 L2014.1,336.2 L2015.1,338.2 L2016.2,341.0 L2017.2,344.6 L2018.2,348.8 L2019.2,353.6 L2020.2,359.0 L2021.2,365.0 L2022.3,371.6 L2023.3,378.6 L2024.3,386.2 L2025.3,394.4 L2026.3,403.2 L2027.3,412.6 L2028.4,422.6 L2029.4,433.4 L2030.4,445.0 L2031.4,457.3 L2032.4,470.4 L2033.4,484.2 L2034.5,498.6 L2035.5,513.7 L2036.5,529.2 L2037.5,545.0" fill="none" stroke="#0000ff" stroke-width="11.3" stroke-linejoin="round" stroke-linecap="round"/>
<path d="M529.4,144.4 L534.0,335.0 M534.0,335.0 L538.5,469.0 M538.5,469.0 L542.9,569.0 M542.9,569.0 L547.4,640.6 M547.4,640.6 L551.9,686.0 M551.9,686.0 L556.4,700.3 M556.4,700.3 L560.9,690.3 M560.9,690.3 L565.4,657.4 M565.4,657.4 L569.9,598.2 M569.9,598.2 L574.4,521.1 M574.4,521.1 L578.9,445.2 M578.9,445.2 L583.4,384.3 M583.4,384.3 L587.9,340.0 M587.9,340.0 L592.4,307.7 M592.4,307.7 L596.9,285.9 M596.9,285.9 L601.4,277.8 M601.4,277.8 L605.7,285.3 M605.7,285.3 L610.0,306.0 M610.0,306.0 L614.3,336.7 M614.3,336.7 L618.6,378.6 M618.6,378.6 L623.0,436.2 M623.0,436.2 L627.3,511.0 M627.3,511.0 L631.6,594.1 M631.6,594.1 L635.9,667.5 M635.9,667.5 L640.2,715.5 M640.2,715.5 L644.5,731.8 M644.5,731.8 L649.0,721.3 M649.0,721.3 L653.4,686.3 M653.4,686.3 L657.9,623.1 M657.9,623.1 L662.3,540.7 M662.3,540.7 L666.8,459.9 M666.8,459.9 L671.2,396.1 M671.2,396.1 L675.6,350.1 M675.6,350.1 L680.1,316.8 M680.1,316.8 L684.5,294.2 M684.5,294.2 L689.0,285.8 M689.0,285.8 L693.3,293.1 M693.3,293.1 L697.6,313.1 M697.6,313.1 L701.9,343.0 M701.9,343.0 L706.2,383.7 M706.2,383.7 L710.5,438.8 M710.5,438.8 L714.9,509.3 M714.9,509.3 L719.2,586.7 M719.2,586.7 L723.5,654.6 M723.5,654.6 L727.8,698.9 M727.8,698.9 L732.1,714.0 M732.1,714.0 L736.5,704.2 M736.5,704.2 L741.0,671.9 M741.0,671.9 L745.4,614.0 M745.4,614.0 L749.8,538.7 M749.8,538.7 L754.2,464.3 M754.2,464.3 L758.7,404.5 M758.7,404.5 L763.1,360.7 M763.1,360.7 L767.5,328.7 M767.5,328.7 L772.0,307.2 M772.0,307.2 L776.4,299.2 M776.4,299.2 L780.7,306.2 M780.7,306.2 L785.0,325.5 M785.0,325.5 L789.3,354.6 M789.3,354.6 L793.6,393.8 M793.6,393.8 L798.0,446.3 M798.0,446.3 L802.3,512.4 M802.3,512.4 L806.6,584.2 M806.6,584.2 L810.9,646.8 M810.9,646.8 L815.2,687.6 M815.2,687.6 L819.5,701.5 M819.5,701.5 L823.9,692.3 M823.9,692.3 L828.4,662.0 M828.4,662.0 L832.8,608.3 M832.8,608.3 L837.2,538.5 M837.2,538.5 L841.6,469.0 M841.6,469.0 L846.1,412.4 M846.1,412.4 L850.5,370.5 M850.5,370.5 L854.9,339.7 M854.9,339.7 L859.4,319.0 M859.4,319.0 L863.8,311.4 M863.8,311.4 L868.2,318.1 M868.2,318.1 L872.5,336.8 M872.5,336.8 L876.9,364.9 M876.9,364.9 L881.3,402.6 M881.3,402.6 L885.6,452.5 M885.6,452.5 L890.0,514.5 M890.0,514.5 L894.4,581.0 M894.4,581.0 L898.8,638.7 M898.8,638.7 L903.1,676.3 M903.1,676.3 L907.5,689.1 M907.5,689.1 L911.9,680.4 M911.9,680.4 L916.3,652.2 M916.3,652.2 L920.6,602.4 M920.6,602.4 L925.0,537.7 M925.0,537.7 L929.4,473.0 M929.4,473.0 L933.8,419.6 M933.8,419.6 L938.2,379.5 M938.2,379.5 L942.5,349.9 M942.5,349.9 L946.9,330.1 M946.9,330.1 L951.3,322.9 M951.3,322.9 L955.6,329.4 M955.6,329.4 L960.0,347.3 M960.0,347.3 L964.3,374.4 M964.3,374.4 L968.7,410.7 M968.7,410.7 L973.0,458.1 M973.0,458.1 L977.4,516.2 M977.4,516.2 L981.8,577.9 M981.8,577.9 L986.1,631.1 M986.1,631.1 L990.4,665.7 M990.4,665.7 L994.8,677.5 M994.8,677.5 L999.2,669.3 M999.2,669.3 L1003.5,642.9 M1003.5,642.9 L1007.9,596.7 M1007.9,596.7 L1012.2,536.8 M1012.2,536.8 L1016.6,476.4 M1016.6,476.4 L1021.0,426.1 M1021.0,426.1 L1025.3,387.8 M1025.3,387.8 L1029.7,359.4 M1029.7,359.4 L1034.0,340.5 M1034.0,340.5 L1038.4,333.6 M1038.4,333.6 L1042.8,339.8 M1042.8,339.8 L1047.2,357.0 M1047.2,357.0 L1051.6,383.1 M1051.6,383.1 L1056.0,418.0 M1056.0,418.0 L1060.4,463.0 M1060.4,463.0 L1064.8,517.5 M1064.8,517.5 L1069.2,574.8 M1069.2,574.8 L1073.6,624.0 M1073.6,624.0 L1078.0,655.9 M1078.0,655.9 L1082.4,666.8 M1082.4,666.8 L1086.8,659.1 M1086.8,659.1 L1091.1,634.5 M1091.1,634.5 L1095.5,591.5 M1095.5,591.5 L1099.9,536.0 M1099.9,536.0 L1104.2,479.7 M1104.2,479.7 L1108.6,432.3 M1108.6,432.3 L1113.0,395.8 M1113.0,395.8 L1117.4,368.6 M1117.4,368.6 L1121.7,350.6 M1121.7,350.6 L1126.1,344.0 M1126.1,344.0 L1130.5,349.9 M1130.5,349.9 L1134.9,366.4 M1134.9,366.4 L1139.3,391.5 M1139.3,391.5 L1143.7,424.8 M1143.7,424.8 L1148.0,467.5 M1148.0,467.5 L1152.4,518.4 M1152.4,518.4 L1156.8,571.5 M1156.8,571.5 L1161.2,616.9 M1161.2,616.9 L1165.6,646.4 M1165.6,646.4 L1170.0,656.4 M1170.0,656.4 L1174.4,649.2 M1174.4,649.2 L1178.8,626.2 M1178.8,626.2 L1183.3,586.4 M1183.3,586.4 L1187.7,535.0 M1187.7,535.0 L1192.1,482.6 M1192.1,482.6 L1196.5,438.0 M1196.5,438.0 L1200.9,403.4 M1200.9,403.4 L1205.4,377.4 M1205.4,377.4 L1209.8,360.2 M1209.8,360.2 L1214.2,354.0 M1214.2,354.0 L1218.5,359.6 M1218.5,359.6 L1222.8,375.4 M1222.8,375.4 L1227.2,399.5 M1227.2,399.5 L1231.5,431.4 M1231.5,431.4 L1235.8,471.8 M1235.8,471.8 L1240.1,519.6 M1240.1,519.6 L1244.4,568.9 M1244.4,568.9 L1248.8,610.9 M1248.8,610.9 L1253.1,638.1 M1253.1,638.1 L1257.4,647.4 M1257.4,647.4 L1261.8,640.6 M1261.8,640.6 L1266.2,619.0 M1266.2,619.0 L1270.6,582.0 M1270.6,582.0 L1275.0,534.1 M1275.0,534.1 L1279.4,485.0 M1279.4,485.0 L1283.8,442.9 M1283.8,442.9 L1288.2,409.8 M1288.2,409.8 L1292.6,385.0 M1292.6,385.0 L1297.0,368.6 M1297.0,368.6 L1301.4,362.7 M1301.4,362.7 L1305.8,368.1 M1305.8,368.1 L1310.2,383.2 M1310.2,383.2 L1314.6,406.2 M1314.6,406.2 L1319.0,436.7 M1319.0,436.7 L1323.5,474.9 M1323.5,474.9 L1327.9,519.7 M1327.9,519.7 L1332.3,565.6 M1332.3,565.6 L1336.7,604.4 M1336.7,604.4 L1341.1,629.6 M1341.1,629.6 L1345.5,638.2 M1345.5,638.2 L1349.9,631.8 M1349.9,631.8 L1354.3,611.6 M1354.3,611.6 L1358.7,577.1 M1358.7,577.1 L1363.1,532.6 M1363.1,532.6 L1367.5,486.8 M1367.5,486.8 L1371.9,447.1 M1371.9,447.1 L1376.3,415.7 M1376.3,415.7 L1380.7,392.0 M1380.7,392.0 L1385.1,376.4 M1385.1,376.4 L1389.5,370.8 M1389.5,370.8 L1393.8,375.9 M1393.8,375.9 L1398.1,390.4 M1398.1,390.4 L1402.3,412.4 M1402.3,412.4 L1406.6,441.5 M1406.6,441.5 L1410.9,477.7 M1410.9,477.7 L1415.2,519.6 M1415.2,519.6 L1419.5,562.3 M1419.5,562.3 L1423.7,598.3 M1423.7,598.3 L1428.0,621.7 M1428.0,621.7 L1432.3,629.6 M1432.3,629.6 L1436.8,623.6 M1436.8,623.6 L1441.2,604.7 M1441.2,604.7 L1445.6,572.7 M1445.6,572.7 L1450.1,531.3 M1450.1,531.3 L1454.5,488.7 M1454.5,488.7 L1459.0,451.3 M1459.0,451.3 L1463.5,421.5 M1463.5,421.5 L1467.9,399.0 M1467.9,399.0 L1472.3,384.1 M1472.3,384.1 L1476.8,378.8 M1476.8,378.8 L1481.1,383.7 M1481.1,383.7 L1485.4,397.4 M1485.4,397.4 L1489.7,418.5 M1489.7,418.5 L1494.0,446.2 M1494.0,446.2 L1498.3,480.4 M1498.3,480.4 L1502.7,519.6 M1502.7,519.6 L1507.0,559.3 M1507.0,559.3 L1511.3,592.7 M1511.3,592.7 L1515.6,614.2 M1515.6,614.2 L1519.9,621.6 M1519.9,621.6 L1524.4,616.0 M1524.4,616.0 L1528.9,598.4 M1528.9,598.4 L1533.4,568.7 M1533.4,568.7 L1537.9,530.4 M1537.9,530.4 L1542.3,490.7 M1542.3,490.7 L1546.8,455.6 M1546.8,455.6 L1551.3,427.5 M1551.3,427.5 L1555.8,406.1 M1555.8,406.1 L1560.3,392.0 M1560.3,392.0 L1564.8,387.0 M1564.8,387.0 L1569.1,391.6 M1569.1,391.6 L1573.4,404.7 M1573.4,404.7 L1577.8,424.8 M1577.8,424.8 L1582.1,451.1 M1582.1,451.1 L1586.4,483.4 M1586.4,483.4 L1590.7,520.2 M1590.7,520.2 L1595.0,557.0 M1595.0,557.0 L1599.4,587.9 M1599.4,587.9 L1603.7,607.9 M1603.7,607.9 L1608.0,614.7 M1608.0,614.7 L1612.4,609.4 M1612.4,609.4 L1616.8,592.9 M1616.8,592.9 L1621.3,565.2 M1621.3,565.2 L1625.7,529.6 M1625.7,529.6 L1630.1,492.4 M1630.1,492.4 L1634.5,459.4 M1634.5,459.4 L1638.9,432.7 M1638.9,432.7 L1643.4,412.3 M1643.4,412.3 L1647.8,399.0 M1647.8,399.0 L1652.2,394.2 M1652.2,394.2 L1656.4,398.6 M1656.4,398.6 L1660.7,411.1 M1660.7,411.1 L1664.9,430.2 M1664.9,430.2 L1669.2,455.1 M1669.2,455.1 L1673.4,485.6 M1673.4,485.6 L1677.6,520.0 M1677.6,520.0 L1681.9,554.3 M1681.9,554.3 L1686.1,582.9 M1686.1,582.9 L1690.4,601.4 M1690.4,601.4 L1694.6,607.7 M1694.6,607.7 L1699.1,602.7 M1699.1,602.7 L1703.6,587.2 M1703.6,587.2 L1708.2,561.3 M1708.2,561.3 L1712.7,528.0 M1712.7,528.0 L1717.2,493.1 M1717.2,493.1 L1721.7,461.9 M1721.7,461.9 L1726.2,436.5 M1726.2,436.5 L1730.8,417.1 M1730.8,417.1 L1735.3,404.4 M1735.3,404.4 L1739.8,399.9 M1739.8,399.9 L1744.1,404.1 M1744.1,404.1 L1748.4,416.0 M1748.4,416.0 L1752.8,434.2 M1752.8,434.2 L1757.1,458.0 M1757.1,458.0 L1761.4,486.8 M1761.4,486.8 L1765.7,519.2 M1765.7,519.2 L1770.0,551.2 M1770.0,551.2 L1774.4,577.9 M1774.4,577.9 L1778.7,595.1 M1778.7,595.1 L1783.0,601.0 M1783.0,601.0 L1787.4,596.3 M1787.4,596.3 L1791.8,581.8 M1791.8,581.8 L1796.3,557.7 M1796.3,557.7 L1800.7,526.7 M1800.7,526.7 L1805.1,494.2 M1805.1,494.2 L1809.5,464.8 M1809.5,464.8 L1813.9,440.8 M1813.9,440.8 L1818.4,422.4 M1818.4,422.4 L1822.8,410.4 M1822.8,410.4 L1827.2,406.1 M1827.2,406.1 L1831.5,410.1 M1831.5,410.1 L1835.8,421.3 M1835.8,421.3 L1840.0,438.7 M1840.0,438.7 L1844.3,461.2 M1844.3,461.2 L1848.6,488.4 M1848.6,488.4 L1852.9,518.7 M1852.9,518.7 L1857.2,548.5 M1857.2,548.5 L1861.4,573.3 M1861.4,573.3 L1865.7,589.2 M1865.7,589.2 L1870.0,594.7 M1870.0,594.7 L1874.5,590.3 M1874.5,590.3 L1879.1,576.8 M1879.1,576.8 L1883.6,554.2 M1883.6,554.2 L1888.1,525.4 M1888.1,525.4 L1892.7,495.0 M1892.7,495.0 L1897.2,467.4 M1897.2,467.4 L1901.7,444.7 M1901.7,444.7 L1906.2,427.2 M1906.2,427.2 L1910.8,415.8 M1910.8,415.8 L1915.3,411.8 M1915.3,411.8 L1919.5,415.5 M1919.5,415.5 L1923.8,426.2 M1923.8,426.2 L1928.0,442.6 M1928.0,442.6 L1932.3,463.9 M1932.3,463.9 L1936.5,489.5 M1936.5,489.5 L1940.7,517.7 M1940.7,517.7 L1945.0,545.4 M1945.0,545.4 L1949.2,568.3 M1949.2,568.3 L1953.5,583.1 M1953.5,583.1 L1957.7,588.1 M1957.7,588.1 L1962.2,584.0 M1962.2,584.0 L1966.6,571.4 M1966.6,571.4 L1971.0,550.6 M1971.0,550.6 L1975.5,523.9 M1975.5,523.9 L1980.0,495.8 M1980.0,495.8 L1984.4,470.1 M1984.4,470.1 L1988.9,448.7 M1988.9,448.7 L1993.3,432.3 M1993.3,432.3 L1997.8,421.6 M1997.8,421.6 L2002.2,417.8 M2002.2,417.8 L2006.8,421.8 M2006.8,421.8 L2011.4,433.1 M2011.4,433.1 L2016.0,450.4 M2016.0,450.4 L2020.7,472.8 M2020.7,472.8 L2025.3,499.2 M2025.3,499.2 L2029.9,527.3 M2029.9,527.3 L2032.6,542.2 M2032.6,542.2 L2034.5,553.0" fill="none" stroke="#ff0000" stroke-width="12.2" stroke-linejoin="round" stroke-linecap="round" stroke-dasharray="10.6 22"/>
<line x1="767.4" y1="98.4" x2="876.4" y2="98.4" stroke="#c00000" stroke-width="9" stroke-linecap="round" stroke-dasharray="9 16"/>
<line x1="767.6" y1="180.3" x2="890.6" y2="180.3" stroke="#0000ff" stroke-width="9.4" stroke-linecap="round"/>
<g font-family="'Liberation Serif', 'Times New Roman', serif" font-size="67px" fill="#000">
<text x="952" y="120" letter-spacing="-0.05">Linearized System at equilibrium point</text>
<text x="947.0" y="203.7" letter-spacing="-0.16">Original Nonlinear System</text>
</g>
<g font-family="'Liberation Serif', 'Times New Roman', serif" font-weight="bold" font-size="77px" fill="#262626">
<text x="254.7" y="910">0</text>
<text x="410.6" y="910">0.2</text>
<text x="588.1" y="910">0.4</text>
<text x="765.1" y="910">0.6</text>
<text x="943.0" y="910">0.8</text>
<text x="1144.5" y="910">1</text>
<text x="1296.4" y="910">1.2</text>
<text x="1474.1" y="910">1.4</text>
<text x="1652.5" y="910">1.6</text>
<text x="1829.5" y="910">1.8</text>
<text x="2018.8" y="910">2</text>
<text x="115.6" y="860.3">0.96</text>
<text x="193.4" y="534.2">1</text>
<text x="122.5" y="198.8" textLength="132.6" lengthAdjust="spacingAndGlyphs">1.04</text>
</g>
<g font-family="'Liberation Serif', 'Times New Roman', serif" font-weight="bold" font-size="77px" fill="#000">
<text x="1028.4" y="999"><tspan x="1028.4" textLength="165.9" lengthAdjust="spacingAndGlyphs">Time</tspan><tspan x="1196.9" dy="3.8" textLength="22.5" lengthAdjust="spacingAndGlyphs">[</tspan><tspan x="1219.9" dy="-3.8" textLength="27.0" lengthAdjust="spacingAndGlyphs">s</tspan><tspan x="1247.5" dy="3.8" textLength="22.6" lengthAdjust="spacingAndGlyphs">]</tspan></text>
<text transform="translate(88.9,790.3) rotate(-90)" x="0" y="0"><tspan x="-0.9" textLength="263.2" lengthAdjust="spacingAndGlyphs">Angular</tspan> <tspan x="279.3" textLength="260.4" lengthAdjust="spacingAndGlyphs">Velocity</tspan> <tspan x="558.0" dy="4" textLength="22.6" lengthAdjust="spacingAndGlyphs">[</tspan><tspan x="583.4" dy="-4" textLength="79.3" lengthAdjust="spacingAndGlyphs">pu</tspan><tspan x="663.9" dy="4" textLength="22.6" lengthAdjust="spacingAndGlyphs">]</tspan></text>
</g>
</svg>
</body></html>
